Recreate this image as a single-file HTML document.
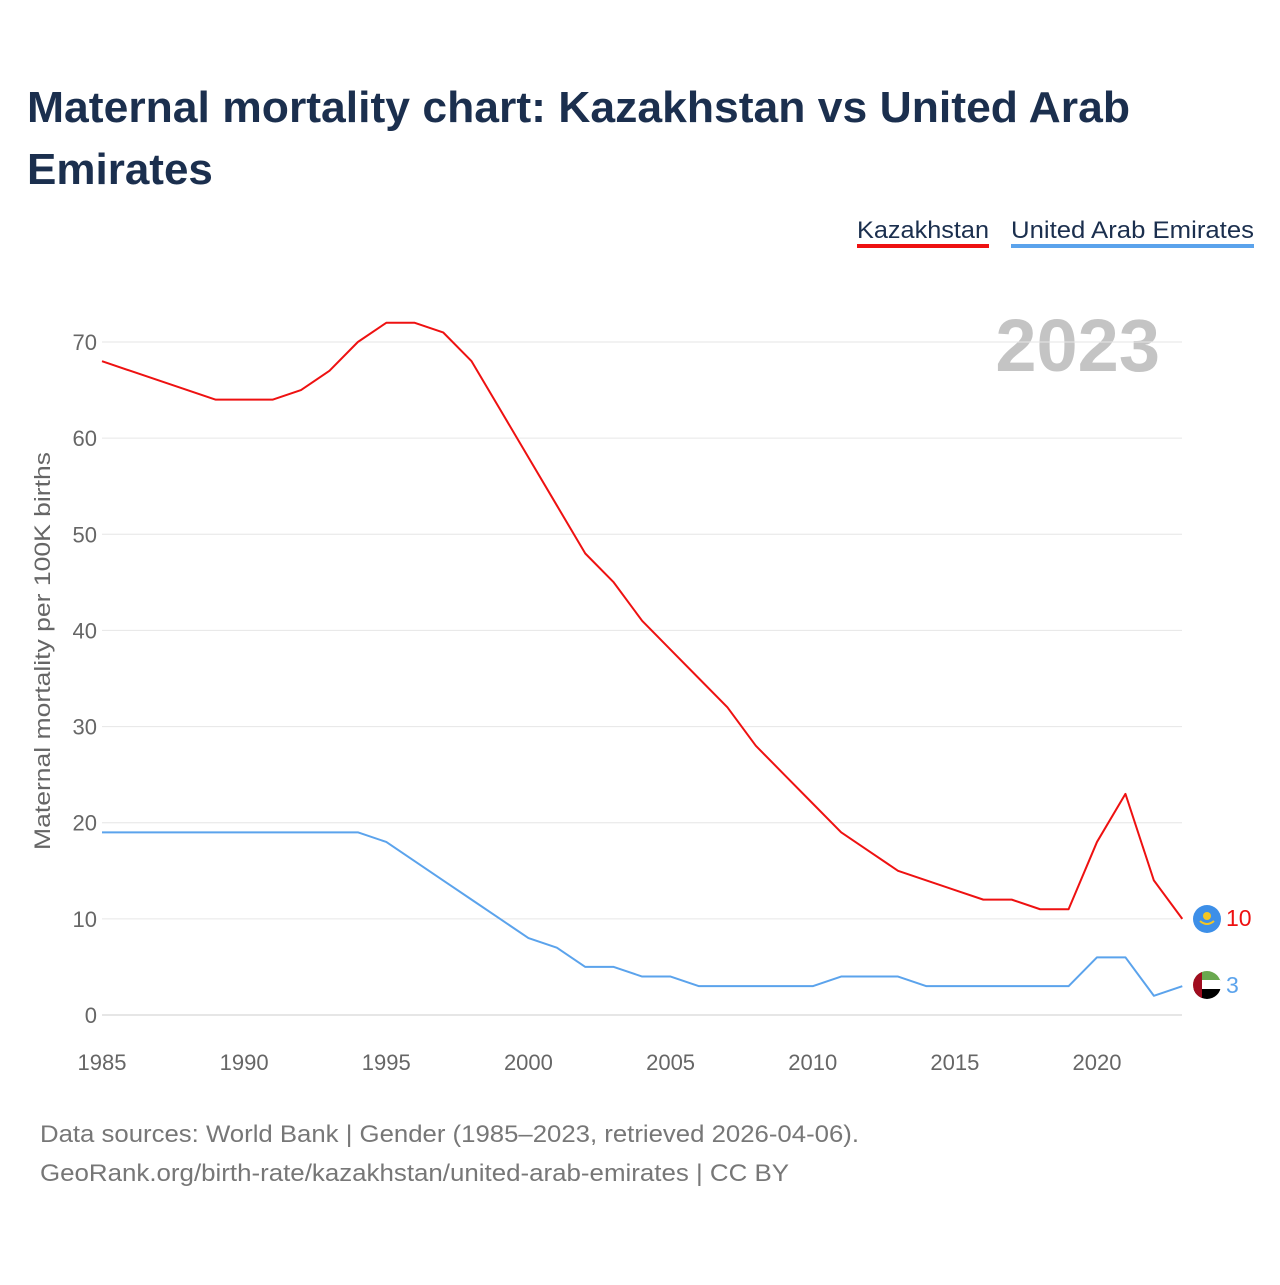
<!DOCTYPE html>
<html><head><meta charset="utf-8"><style>
body{margin:0;background:#fff;font-family:"Liberation Sans",sans-serif;}
svg text{font-family:"Liberation Sans",sans-serif;}
</style></head><body>
<svg width="1280" height="1280" viewBox="0 0 1280 1280">
<text x="27" y="122" font-size="44" font-weight="bold" fill="#1b2f4e" textLength="1103" lengthAdjust="spacingAndGlyphs">Maternal mortality chart: Kazakhstan vs United Arab</text>
<text x="27" y="184" font-size="44" font-weight="bold" fill="#1b2f4e">Emirates</text>
<g><text x="857" y="238" font-size="24" fill="#1b2f4e" textLength="132" lengthAdjust="spacingAndGlyphs">Kazakhstan</text><rect x="857" y="244" width="132" height="4" fill="#ee1111"/></g>
<g><text x="1011" y="238" font-size="24" fill="#1b2f4e" textLength="243" lengthAdjust="spacingAndGlyphs">United Arab Emirates</text><rect x="1011" y="244" width="243" height="4" fill="#5ba3ec"/></g>
<text x="1160" y="371" font-size="74" font-weight="bold" fill="#c4c4c4" text-anchor="end">2023</text>
<g id="grid"></g><g id="xt"></g>
<text transform="translate(50,651) rotate(-90)" font-size="22" fill="#666" text-anchor="middle" textLength="398" lengthAdjust="spacingAndGlyphs">Maternal mortality per 100K births</text>
<g id="lines"></g>
<g><circle cx="1207" cy="919" r="14" fill="#3d8fe8"/><circle cx="1207" cy="916" r="4" fill="#f3c623"/><path d="M1200 921 Q1207 927 1214 921" stroke="#f3c623" stroke-width="2" fill="none"/></g>
<g><clipPath id="cf"><circle cx="1207" cy="985" r="14"/></clipPath><g clip-path="url(#cf)"><rect x="1193" y="971" width="28" height="10" fill="#6aa84f"/><rect x="1193" y="980" width="28" height="10" fill="#fff"/><rect x="1193" y="989" width="28" height="10" fill="#000"/><rect x="1193" y="971" width="9" height="28" fill="#a00d1f"/></g></g>
<text x="1226" y="926" font-size="23" fill="#ee1111">10</text>
<text x="1226" y="993" font-size="23" fill="#5ba3ec">3</text>
<text x="40" y="1142" font-size="24" fill="#777" textLength="819" lengthAdjust="spacingAndGlyphs">Data sources: World Bank | Gender (1985–2023, retrieved 2026-04-06).</text>
<text x="40" y="1181" font-size="24" fill="#777" textLength="749" lengthAdjust="spacingAndGlyphs">GeoRank.org/birth-rate/kazakhstan/united-arab-emirates | CC BY</text>
</svg>
<script>
const years=[];for(let y=1985;y<=2023;y++)years.push(y);
const kazakhstan=[68,67,66,65,64,64,64,65,67,70,72,72,71,68,63,58,53,48,45,41,38,35,32,28,25,22,19,17,15,14,13,12,12,11,11,18,23,14,10];
const uae=[19,19,19,19,19,19,19,19,19,19,18,16,14,12,10,8,7,5,5,4,4,3,3,3,3,3,4,4,4,3,3,3,3,3,3,6,6,2,3];
const yTicks=[0,10,20,30,40,50,60,70];
const xTicks=[1985,1990,1995,2000,2005,2010,2015,2020];
const NS="http://www.w3.org/2000/svg";
const X=v=>102+(v-1985)*(1097-102)/35;
const Y=v=>1015-v*(1015-342)/70;
function mk(t,a,p){const e=document.createElementNS(NS,t);for(const k in a)e.setAttribute(k,a[k]);p.appendChild(e);return e;}
const g=document.getElementById('grid');
yTicks.forEach(t=>{
 const l=mk('line',{x1:102,x2:1182,y1:Y(t),y2:Y(t),stroke:t===0?'#ccc':'#e6e6e6','stroke-width':1},g);
 
 
 const tx=mk('text',{x:97,y:Y(t)+8,'font-size':22,fill:'#666','text-anchor':'end'},g);tx.textContent=t;
 
 
});
const xt=document.getElementById('xt');
xTicks.forEach(t=>{
 const tx=mk('text',{x:X(t),y:1070,'font-size':22,fill:'#666','text-anchor':'middle'},xt);tx.textContent=t;
 
 
});
const lg=document.getElementById('lines');
function line(vals,col,name){
 const p=mk('polyline',{points:vals.map((v,i)=>X(years[i])+','+Y(v)).join(' '),fill:'none',stroke:col,'stroke-width':2,'stroke-linejoin':'round'},lg);
 
 
}
line(kazakhstan,'#ee1111','kazakhstan-line');
line(uae,'#5ba3ec','uae-line');
</script>
</body></html>
